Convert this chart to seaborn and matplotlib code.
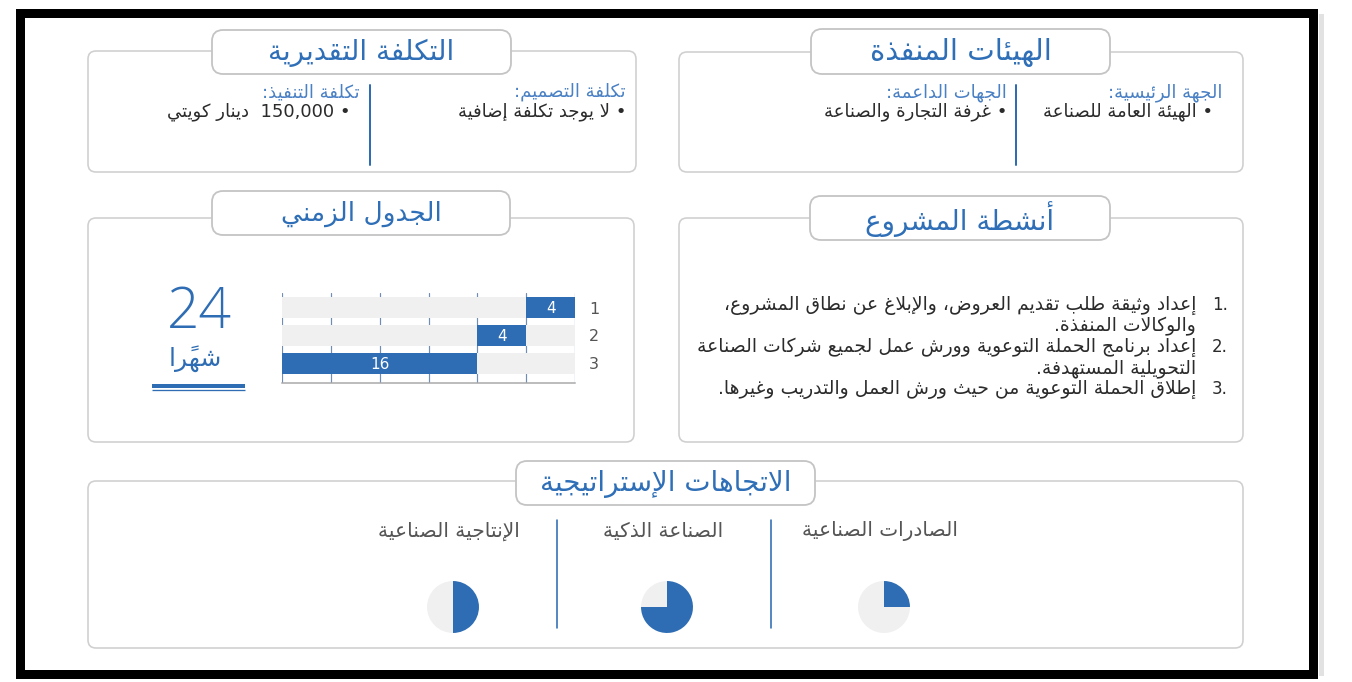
import re
import numpy as np
import pandas as pd
import seaborn as sns
from matplotlib import pyplot as plt
from matplotlib.patches import FancyBboxPatch, Rectangle

# ---- data ----
title_cost = "التكلفة التقديرية"
title_agencies = "الهيئات المنفذة"
title_timeline = "الجدول الزمني"
title_activities = "أنشطة المشروع"
title_trends = "الاتجاهات الإستراتيجية"

cost_headers = ["تكلفة التصميم:", "تكلفة التنفيذ:"]
cost_items = ["• لا يوجد تكلفة إضافية", "• 150,000  دينار كويتي"]
agency_headers = ["الجهة الرئيسية:", "الجهات الداعمة:"]
agency_items = ["• الهيئة العامة للصناعة", "• غرفة التجارة والصناعة"]

activity_numbers = ["1.", "2.", "3."]
activity_lines = [
    ["إعداد وثيقة طلب تقديم العروض، والإبلاغ عن نطاق المشروع،", "والوكالات المنفذة."],
    ["إعداد برنامج الحملة التوعوية وورش عمل لجميع شركات الصناعة", "التحويلية المستهدفة."],
    ["إطلاق الحملة التوعوية من حيث ورش العمل والتدريب وغيرها."],
]

activities = ["1", "2", "3"]
start_month = [0, 4, 8]
duration = [4, 4, 16]
total_months = 24
total_label = "24"
months_word = "شهرًا"

trend_labels = ["الصادرات الصناعية", "الصناعة الذكية", "الإنتاجية الصناعية"]
trend_share = [25, 75, 50]

BLUE = "#2e6db4"
TITLE_BLUE = "#2f6fb7"
HEAD_BLUE = "#4a80c4"
GREY_ROW = "#f0f0f0"
TEXT = "#2b2b2b"
BORDER = "#cfcfcf"


# ---- minimal arabic shaping (matplotlib draws glyphs left to right, unjoined) ----
_seq = ([("\u0622", "R"), ("\u0623", "R"), ("\u0624", "R"), ("\u0625", "R"),
         ("\u0626", "D"), ("\u0627", "R"), ("\u0628", "D"), ("\u0629", "R")]
        + [(chr(c), "D") for c in range(0x062A, 0x062F)]
        + [(chr(c), "R") for c in range(0x062F, 0x0633)]
        + [(chr(c), "D") for c in range(0x0633, 0x063B)]
        + [(chr(c), "D") for c in range(0x0641, 0x0648)]
        + [("\u0648", "R"), ("\u0649", "R"), ("\u064A", "D")])
FORMS, JOIN = {"\u0621": (0xFE80, None, None, None)}, {"\u0621": "U"}
code = 0xFE81
for ch, t in _seq:
    JOIN[ch] = t
    if t == "R":
        FORMS[ch] = (code, code + 1, None, None)
        code += 2
    else:
        FORMS[ch] = (code, code + 1, code + 2, code + 3)
        code += 4
LAM_ALEF = {"\u0622": (0xFEF5, 0xFEF6), "\u0623": (0xFEF7, 0xFEF8),
            "\u0625": (0xFEF9, 0xFEFA), "\u0627": (0xFEFB, 0xFEFC)}


def is_mark(c):
    return 0x064B <= ord(c) <= 0x0652 or ord(c) == 0x0670


def shape(s):
    out, i, n = [], 0, len(s)

    def nb(j, step):
        j += step
        while 0 <= j < n and is_mark(s[j]):
            j += step
        return s[j] if 0 <= j < n else ""

    while i < n:
        c = s[i]
        if c not in FORMS:
            out.append(c)
            i += 1
            continue
        joins_prev = JOIN.get(nb(i, -1)) == "D"
        nxt = nb(i, 1)
        if c == "\u0644" and nxt in LAM_ALEF:
            iso, fin = LAM_ALEF[nxt]
            out.append(chr(fin if joins_prev else iso))
            j = i + 1
            while is_mark(s[j]):
                j += 1
            i = j + 1
            continue
        joins_next = JOIN[c] == "D" and JOIN.get(nxt) in ("D", "R")
        f = FORMS[c]
        if joins_prev and joins_next:
            g = f[3]
        elif joins_prev:
            g = f[1]
        elif joins_next:
            g = f[2]
        else:
            g = f[0]
        out.append(chr(g))
        i += 1
    return "".join(out)


def rev(t):
    cl = []
    for ch in t:
        if is_mark(ch) and cl:
            cl[-1] += ch
        else:
            cl.append(ch)
    return "".join(reversed(cl))


def ar(text):
    tokens = re.findall(r"[0-9][0-9.,،]*[0-9]|[0-9]|[^0-9]+", shape(text))
    return "".join(t if t[0].isdigit() else rev(t) for t in reversed(tokens))


# ---- figure ----
sns.set_theme(style="white")
plt.rcParams["font.family"] = ["DejaVu Sans"]

W, H = 1352, 682
fig = plt.figure(figsize=(W / 100, H / 100), dpi=100)
ax = fig.add_axes([0, 0, 1, 1])
ax.set_xlim(0, W)
ax.set_ylim(H, 0)
ax.axis("off")


def px(v):
    return v * 72 / 100


def panel(x0, y0, x1, y1, r=8):
    ax.add_patch(FancyBboxPatch((x0, y0), x1 - x0, y1 - y0,
                                boxstyle=f"round,pad=0,rounding_size={r}",
                                fc="white", ec=BORDER, lw=px(1.6), zorder=1))


def pill(x0, y0, x1, y1, title, fs=20):
    ax.add_patch(FancyBboxPatch((x0, y0), x1 - x0, y1 - y0,
                                boxstyle="round,pad=0,rounding_size=11",
                                fc="white", ec="#c4c4c4", lw=px(1.8), zorder=3))
    ax.text((x0 + x1) / 2, (y0 + y1) / 2 + 1, ar(title), ha="center", va="center",
            fontsize=fs, color=TITLE_BLUE, zorder=4)


# frame
ax.add_patch(Rectangle((1319, 14), 5, 662, fc="#e2e2e2", ec="none", zorder=0))
ax.add_patch(Rectangle((19.5, 12.5), 1293, 661, fc="none", ec="black", lw=px(9), zorder=5))

# panels
panel(88, 51, 636, 172)
panel(679, 52, 1243, 172)
panel(88, 218, 634, 442)
panel(679, 218, 1243, 442)
panel(88, 481, 1243, 648)

pill(212, 30, 511, 74, title_cost)
pill(811, 29, 1110, 74, title_agencies, fs=21)
pill(212, 191, 510, 235, title_timeline, fs=19)
pill(810, 196, 1110, 240, title_activities)
pill(516, 461, 815, 505, title_trends)

# cost and agencies columns
ax.plot([370, 370], [85, 165], color=BLUE, lw=px(2))
ax.plot([1016, 1016], [85, 165], color=BLUE, lw=px(2))
for xr, xb, h, it in zip([626, 360], [626, 351], cost_headers, cost_items):
    ax.text(xr, 92, ar(h), ha="right", va="center", fontsize=13, color=HEAD_BLUE)
    ax.text(xb, 112, ar(it), ha="right", va="center", fontsize=13, color=TEXT)
for xr, xb, h, it in zip([1222, 1007], [1213, 1007], agency_headers, agency_items):
    ax.text(xr, 93, ar(h), ha="right", va="center", fontsize=13, color=HEAD_BLUE)
    ax.text(xb, 112, ar(it), ha="right", va="center", fontsize=13, color=TEXT)

# activities list
y = 305
for num, lines in zip(activity_numbers, activity_lines):
    ax.text(1212, y, num, ha="left", va="center", fontsize=12, color=TEXT)
    for ln in lines:
        ax.text(1196, y, ar(ln), ha="right", va="center", fontsize=13.5, color=TEXT)
        y += 21

# total duration
ax.text(199, 313, total_label, ha="center", va="center", fontsize=41,
        color=BLUE, family=["Open Sans", "DejaVu Sans"], weight="light")
ax.text(195, 359, ar(months_word), ha="center", va="center", fontsize=18, color=BLUE)
ax.plot([152, 245], [385.5, 385.5], color=BLUE, lw=px(4), solid_capstyle="butt")
ax.plot([152, 245], [390, 390], color=BLUE, lw=px(1.3), solid_capstyle="butt")

# gantt chart
gx0, gx1, gy0, gy1 = 282, 575, 293, 383
axg = fig.add_axes([gx0 / W, 1 - gy1 / H, (gx1 - gx0) / W, (gy1 - gy0) / H])
df = pd.DataFrame({"activity": activities, "start": start_month, "dur": duration})
df["end"] = df["start"] + df["dur"]
df["total"] = total_months
sns.barplot(data=df, x="total", y="activity", color=GREY_ROW, width=0.75,
            saturation=1, linewidth=0, ax=axg, zorder=2)
sns.barplot(data=df, x="end", y="activity", color=BLUE, width=0.75,
            saturation=1, linewidth=0, ax=axg, zorder=3)
sns.barplot(data=df, x="start", y="activity", color=GREY_ROW, width=0.75,
            saturation=1, linewidth=0, ax=axg, zorder=4)
for i, r in df.iterrows():
    axg.text(r["start"] + r["dur"] / 2, i + 0.03, str(r["dur"]), ha="center", va="center",
             fontsize=11, color="white", zorder=5)
axg.set_xlim(total_months, 0)
axg.set_ylim(2.70, -0.52)
axg.set_xticks(range(0, total_months + 1, 4))
axg.set_xticklabels([])
axg.xaxis.grid(True, color="#6f8db5", lw=px(1.2))
axg.set_axisbelow(True)
axg.yaxis.tick_right()
axg.tick_params(axis="both", length=0)
axg.tick_params(axis="y", labelsize=11.5, labelcolor="#555555", pad=10)
axg.set_xlabel("")
axg.set_ylabel("")
for s in ["top", "right", "left"]:
    axg.spines[s].set_visible(False)
axg.spines["bottom"].set_color("#a8a8a8")
axg.spines["bottom"].set_linewidth(px(1.5))
axg.patch.set_alpha(0)

# strategic trends
trend_x = [880, 663, 449]
for xc, lab, share in zip(trend_x, trend_labels, trend_share):
    ax.text(xc, 531, ar(lab), ha="center", va="center", fontsize=14.5, color="#555555")
    d = 53
    axp = fig.add_axes([(xc + 4 - d / 2) / W, 1 - (607 + d / 2) / H, d / W, d / H])
    axp.pie([share, 100 - share], colors=[BLUE, GREY_ROW], startangle=90,
            counterclock=False, wedgeprops=dict(linewidth=0))
    axp.set_xlim(-1.02, 1.02)
    axp.set_ylim(-1.02, 1.02)
    axp.set_aspect("equal")
for xl in [557, 771]:
    ax.plot([xl, xl], [520, 628], color=BLUE, lw=px(1.6))

fig.savefig("out.png", dpi=100)
